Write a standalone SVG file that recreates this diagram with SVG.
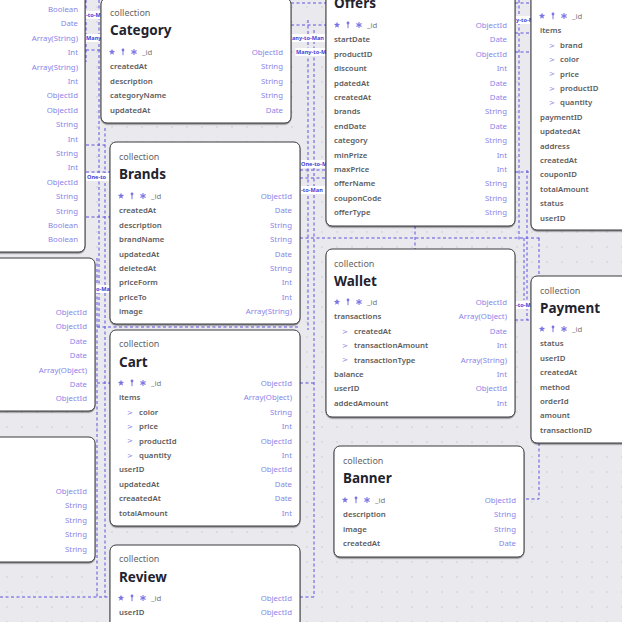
<svg xmlns="http://www.w3.org/2000/svg" xmlns:xlink="http://www.w3.org/1999/xlink" width="622" height="622" viewBox="0 0 622 622">
<defs>
<style>
.box{fill:#fff;stroke:#3a3a3f;stroke-width:1;filter:url(#sh)}
.col{font-family:"Noto Sans","Open Sans",sans-serif;font-size:9px;fill:#666}
.ttl{font-family:"Noto Sans","Open Sans",sans-serif;font-size:13.5px;font-weight:700;fill:#1f2330}
.fn{font-family:"Noto Sans","Open Sans",sans-serif;font-size:7.8px;font-weight:600;fill:#5c5c60}
.id{font-family:"Noto Sans","Open Sans",sans-serif;font-size:7.8px;fill:#777}
.ty{font-family:"Noto Sans","Open Sans",sans-serif;font-size:7.8px;fill:#8a85e8;text-anchor:end}
.chev{font-family:"DejaVu Sans",sans-serif;font-size:7px;fill:#8a85e8}
.conn path{fill:none;stroke:#5e52e0;stroke-width:1;stroke-dasharray:3 2.5}
.lbg{fill:#fff}
.lbl{font-family:"Noto Sans","Open Sans",sans-serif;font-size:5.6px;font-weight:700;fill:#4a3fd6}
</style>
<pattern id="dots" width="15" height="15" patternUnits="userSpaceOnUse"><circle cx="7" cy="7" r="0.75" fill="#c6c6cd"/></pattern>
<filter id="sh" x="-5%" y="-5%" width="110%" height="112%"><feDropShadow dx="0" dy="1.2" stdDeviation="0.7" flood-color="#000" flood-opacity="0.45"/></filter>
<g id="ico" fill="#7a74e4" stroke="#7a74e4">
<polygon stroke="none" points="0,-3.3 0.82,-1.13 3.14,-1.02 1.33,0.43 1.94,2.67 0,1.4 -1.94,2.67 -1.33,0.43 -3.14,-1.02 -0.82,-1.13"/>
<circle cx="11" cy="-2" r="1.4" stroke="none"/>
<line x1="11" y1="-1" x2="11" y2="3.2" stroke-width="1"/>
<line x1="22" y1="-3" x2="22" y2="3" stroke-width="1.1"/>
<line x1="19.4" y1="-1.5" x2="24.6" y2="1.5" stroke-width="1.1"/>
<line x1="19.4" y1="1.5" x2="24.6" y2="-1.5" stroke-width="1.1"/>
</g>
</defs>
<rect width="622" height="622" fill="#e9e9ee"/>
<rect width="622" height="622" fill="url(#dots)"/>

<g id="connectors" class="conn">
<path d="M86,0 V62"/>
<path d="M86,50 H101"/>
<path d="M99,0 V330"/>
<path d="M105,128 V597"/>
<path d="M86,145 H105"/>
<path d="M86,172 H110"/>
<path d="M86,217 H110"/>
<path d="M97,258 V597"/>
<path d="M97,327 H300"/>
<path d="M97,383 H110"/>
<path d="M0,597 H110"/>
<path d="M291,3 H326"/>
<path d="M291,25 H326"/>
<path d="M308,20 V330"/>
<path d="M314,30 V597"/>
<path d="M300,170 H326"/>
<path d="M300,178 H326"/>
<path d="M300,238 H540"/>
<path d="M415,226 V249"/>
<path d="M300,383 H316"/>
<path d="M300,597 H316"/>
<path d="M515,3 H531"/>
<path d="M515,33 H531"/>
<path d="M515,52 H531"/>
<path d="M519,0 V240"/>
<path d="M527,170 V320"/>
<path d="M515,172 H531"/>
<path d="M515,320 H531"/>
<path d="M524,238 V300"/>
<path d="M539,238 V276"/>
<path d="M539,443 V499 H524"/>
<rect class="lbg" x="85.5" y="11" width="15" height="8"/><text class="lbl" x="86" y="17">-to-M</text>
<rect class="lbg" x="85.5" y="34" width="15" height="8"/><text class="lbl" x="86" y="40">Many</text>
<rect class="lbg" x="86" y="173" width="23" height="8"/><text class="lbl" x="87" y="179">One-to</text>
<rect class="lbg" x="95.5" y="285" width="14" height="8"/><text class="lbl" x="96" y="291">o-Ma</text>
<rect class="lbg" x="291.5" y="34" width="34" height="8"/><text class="lbl" x="292" y="40">any-to-Man</text>
<rect class="lbg" x="295.5" y="48" width="30" height="8"/><text class="lbl" x="296" y="54">Many-to-M</text>
<rect class="lbg" x="300.5" y="160" width="25" height="8"/><text class="lbl" x="301" y="166">One-to-M</text>
<rect class="lbg" x="300.5" y="186" width="25" height="8"/><text class="lbl" x="301" y="192">-to-Man</text>
<rect class="lbg" x="515.5" y="16" width="15" height="8"/><text class="lbl" x="516" y="22">y-to-M</text>
<rect class="lbg" x="515.5" y="301" width="15" height="8"/><text class="lbl" x="516" y="307">-to-M</text>
</g>

<g id="node-left-top">
<rect class="box" x="-105" y="-30" width="190" height="282" rx="6"/>
<text class="ty" x="78" y="12">Boolean</text>
<text class="ty" x="78" y="26.4">Date</text>
<text class="ty" x="78" y="40.8">Array(String)</text>
<text class="ty" x="78" y="55.2">Int</text>
<text class="ty" x="78" y="69.6">Array(String)</text>
<text class="ty" x="78" y="84">Int</text>
<text class="ty" x="78" y="98.4">ObjectId</text>
<text class="ty" x="78" y="112.8">ObjectId</text>
<text class="ty" x="78" y="127.2">String</text>
<text class="ty" x="78" y="141.6">Int</text>
<text class="ty" x="78" y="156">String</text>
<text class="ty" x="78" y="170.4">Int</text>
<text class="ty" x="78" y="184.8">ObjectId</text>
<text class="ty" x="78" y="199.2">String</text>
<text class="ty" x="78" y="213.6">String</text>
<text class="ty" x="78" y="228">Boolean</text>
<text class="ty" x="78" y="242.4">Boolean</text>
</g>

<g id="node-left-mid">
<rect class="box" x="-95" y="258" width="190" height="153" rx="6"/>
<text class="ty" x="87" y="315">ObjectId</text>
<text class="ty" x="87" y="329.4">ObjectId</text>
<text class="ty" x="87" y="343.8">Date</text>
<text class="ty" x="87" y="358.2">Date</text>
<text class="ty" x="87" y="372.6">Array(Object)</text>
<text class="ty" x="87" y="387">Date</text>
<text class="ty" x="87" y="401.4">ObjectId</text>
</g>

<g id="node-left-bottom">
<rect class="box" x="-95" y="437" width="190" height="125" rx="6"/>
<text class="ty" x="87" y="494">ObjectId</text>
<text class="ty" x="87" y="508.4">String</text>
<text class="ty" x="87" y="522.8">String</text>
<text class="ty" x="87" y="537.2">String</text>
<text class="ty" x="87" y="551.6">String</text>
</g>

<g id="node-category">
<rect class="box" x="101" y="-2" width="190" height="125" rx="6"/>
<text class="col" x="110" y="16">collection</text>
<text class="ttl" x="110" y="35">Category</text>
<use href="#ico" x="112" y="52"/><text class="id" x="142" y="55">_id</text><text class="ty" x="283" y="55">ObjectId</text>
<text class="fn" x="110" y="69.4">createdAt</text><text class="ty" x="283" y="69.4">String</text>
<text class="fn" x="110" y="83.8">description</text><text class="ty" x="283" y="83.8">String</text>
<text class="fn" x="110" y="98.2">categoryName</text><text class="ty" x="283" y="98.2">String</text>
<text class="fn" x="110" y="112.6">updatedAt</text><text class="ty" x="283" y="112.6">Date</text>
</g>

<g id="node-brands">
<rect class="box" x="110" y="142" width="190" height="182" rx="6"/>
<text class="col" x="119" y="160">collection</text>
<text class="ttl" x="119" y="179">Brands</text>
<use href="#ico" x="121" y="196"/><text class="id" x="151" y="199">_id</text><text class="ty" x="292" y="199">ObjectId</text>
<text class="fn" x="119" y="213.4">createdAt</text><text class="ty" x="292" y="213.4">Date</text>
<text class="fn" x="119" y="227.8">description</text><text class="ty" x="292" y="227.8">String</text>
<text class="fn" x="119" y="242.2">brandName</text><text class="ty" x="292" y="242.2">String</text>
<text class="fn" x="119" y="256.6">updatedAt</text><text class="ty" x="292" y="256.6">Date</text>
<text class="fn" x="119" y="271">deletedAt</text><text class="ty" x="292" y="271">String</text>
<text class="fn" x="119" y="285.4">priceForm</text><text class="ty" x="292" y="285.4">Int</text>
<text class="fn" x="119" y="299.8">priceTo</text><text class="ty" x="292" y="299.8">Int</text>
<text class="fn" x="119" y="314.2">image</text><text class="ty" x="292" y="314.2">Array(String)</text>
</g>

<g id="node-cart">
<rect class="box" x="110" y="330" width="190" height="196" rx="6"/>
<text class="col" x="119" y="347">collection</text>
<text class="ttl" x="119" y="367">Cart</text>
<use href="#ico" x="121" y="383"/><text class="id" x="151" y="386">_id</text><text class="ty" x="292" y="386">ObjectId</text>
<text class="fn" x="119" y="400.4">items</text><text class="ty" x="292" y="400.4">Array(Object)</text>
<text class="chev" x="127" y="414.6">&gt;</text><text class="fn" x="139" y="414.8">color</text><text class="ty" x="292" y="414.8">String</text>
<text class="chev" x="127" y="429">&gt;</text><text class="fn" x="139" y="429.2">price</text><text class="ty" x="292" y="429.2">Int</text>
<text class="chev" x="127" y="443.4">&gt;</text><text class="fn" x="139" y="443.6">productId</text><text class="ty" x="292" y="443.6">ObjectId</text>
<text class="chev" x="127" y="457.8">&gt;</text><text class="fn" x="139" y="458">quantity</text><text class="ty" x="292" y="458">Int</text>
<text class="fn" x="119" y="472.4">userID</text><text class="ty" x="292" y="472.4">ObjectId</text>
<text class="fn" x="119" y="486.8">updatedAt</text><text class="ty" x="292" y="486.8">Date</text>
<text class="fn" x="119" y="501.2">creaatedAt</text><text class="ty" x="292" y="501.2">Date</text>
<text class="fn" x="119" y="515.6">totalAmount</text><text class="ty" x="292" y="515.6">Int</text>
</g>

<g id="node-review">
<rect class="box" x="110" y="545" width="190" height="100" rx="6"/>
<text class="col" x="119" y="562">collection</text>
<text class="ttl" x="119" y="582">Review</text>
<use href="#ico" x="121" y="598"/><text class="id" x="151" y="601">_id</text><text class="ty" x="292" y="601">ObjectId</text>
<text class="fn" x="119" y="615.4">userID</text><text class="ty" x="292" y="615.4">ObjectId</text>
</g>

<g id="node-offers">
<rect class="box" x="326" y="-29" width="189" height="255" rx="6"/>
<text class="ttl" x="334" y="8">Offers</text>
<use href="#ico" x="337" y="25"/><text class="id" x="367" y="28">_id</text><text class="ty" x="507" y="28">ObjectId</text>
<text class="fn" x="334" y="42.4">startDate</text><text class="ty" x="507" y="42.4">Date</text>
<text class="fn" x="334" y="56.8">productID</text><text class="ty" x="507" y="56.8">ObjectId</text>
<text class="fn" x="334" y="71.2">discount</text><text class="ty" x="507" y="71.2">Int</text>
<text class="fn" x="334" y="85.6">pdatedAt</text><text class="ty" x="507" y="85.6">Date</text>
<text class="fn" x="334" y="100">createdAt</text><text class="ty" x="507" y="100">Date</text>
<text class="fn" x="334" y="114.4">brands</text><text class="ty" x="507" y="114.4">String</text>
<text class="fn" x="334" y="128.8">endDate</text><text class="ty" x="507" y="128.8">Date</text>
<text class="fn" x="334" y="143.2">category</text><text class="ty" x="507" y="143.2">String</text>
<text class="fn" x="334" y="157.6">minPrize</text><text class="ty" x="507" y="157.6">Int</text>
<text class="fn" x="334" y="172">maxPrice</text><text class="ty" x="507" y="172">Int</text>
<text class="fn" x="334" y="186.4">offerName</text><text class="ty" x="507" y="186.4">String</text>
<text class="fn" x="334" y="200.8">couponCode</text><text class="ty" x="507" y="200.8">String</text>
<text class="fn" x="334" y="215.2">offerType</text><text class="ty" x="507" y="215.2">String</text>
</g>

<g id="node-wallet">
<rect class="box" x="326" y="249" width="189" height="168" rx="6"/>
<text class="col" x="334" y="267">collection</text>
<text class="ttl" x="334" y="286">Wallet</text>
<use href="#ico" x="337" y="302"/><text class="id" x="367" y="305">_id</text><text class="ty" x="507" y="305">ObjectId</text>
<text class="fn" x="334" y="319.4">transactions</text><text class="ty" x="507" y="319.4">Array(Object)</text>
<text class="chev" x="342" y="333.6">&gt;</text><text class="fn" x="354" y="333.8">createdAt</text><text class="ty" x="507" y="333.8">Date</text>
<text class="chev" x="342" y="348">&gt;</text><text class="fn" x="354" y="348.2">transactionAmount</text><text class="ty" x="507" y="348.2">Int</text>
<text class="chev" x="342" y="362.4">&gt;</text><text class="fn" x="354" y="362.6">transactionType</text><text class="ty" x="507" y="362.6">Array(String)</text>
<text class="fn" x="334" y="377">balance</text><text class="ty" x="507" y="377">Int</text>
<text class="fn" x="334" y="391.4">userID</text><text class="ty" x="507" y="391.4">ObjectId</text>
<text class="fn" x="334" y="405.8">addedAmount</text><text class="ty" x="507" y="405.8">Int</text>
</g>

<g id="node-banner">
<rect class="box" x="334" y="446" width="190" height="111" rx="6"/>
<text class="col" x="343" y="464">collection</text>
<text class="ttl" x="343" y="483">Banner</text>
<use href="#ico" x="345" y="500"/><text class="id" x="375" y="503">_id</text><text class="ty" x="516" y="503">ObjectId</text>
<text class="fn" x="343" y="517.4">description</text><text class="ty" x="516" y="517.4">String</text>
<text class="fn" x="343" y="531.8">image</text><text class="ty" x="516" y="531.8">String</text>
<text class="fn" x="343" y="546.2">createdAt</text><text class="ty" x="516" y="546.2">Date</text>
</g>

<g id="node-order">
<rect class="box" x="531" y="-38" width="190" height="268" rx="6"/>
<use href="#ico" x="542" y="16"/><text class="id" x="572" y="19">_id</text>
<text class="fn" x="540" y="33.4">items</text>
<text class="chev" x="549" y="47.6">&gt;</text><text class="fn" x="560" y="47.8">brand</text>
<text class="chev" x="549" y="62">&gt;</text><text class="fn" x="560" y="62.2">color</text>
<text class="chev" x="549" y="76.4">&gt;</text><text class="fn" x="560" y="76.6">price</text>
<text class="chev" x="549" y="90.8">&gt;</text><text class="fn" x="560" y="91">productID</text>
<text class="chev" x="549" y="105.2">&gt;</text><text class="fn" x="560" y="105.4">quantity</text>
<text class="fn" x="540" y="119.8">paymentID</text>
<text class="fn" x="540" y="134.2">updatedAt</text>
<text class="fn" x="540" y="148.6">address</text>
<text class="fn" x="540" y="163">createdAt</text>
<text class="fn" x="540" y="177.4">couponID</text>
<text class="fn" x="540" y="191.8">totalAmount</text>
<text class="fn" x="540" y="206.2">status</text>
<text class="fn" x="540" y="220.6">userID</text>
</g>

<g id="node-payment">
<rect class="box" x="531" y="276" width="190" height="167" rx="6"/>
<text class="col" x="540" y="294">collection</text>
<text class="ttl" x="540" y="313">Payment</text>
<use href="#ico" x="542" y="329"/><text class="id" x="572" y="332">_id</text>
<text class="fn" x="540" y="346.4">status</text>
<text class="fn" x="540" y="360.8">userID</text>
<text class="fn" x="540" y="375.2">createdAt</text>
<text class="fn" x="540" y="389.6">method</text>
<text class="fn" x="540" y="404">orderId</text>
<text class="fn" x="540" y="418.4">amount</text>
<text class="fn" x="540" y="432.8">transactionID</text>
</g>
</svg>
